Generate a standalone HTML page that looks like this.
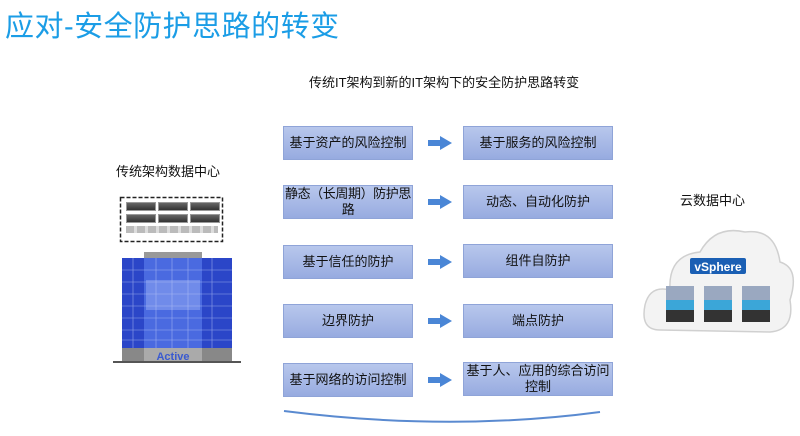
<!DOCTYPE html>
<html><head><meta charset="utf-8"><style>
body{margin:0;width:800px;height:436px;background:#fff;position:relative;overflow:hidden;font-family:"Liberation Sans","Noto Sans CJK SC",sans-serif;}
.a{position:absolute}
.t{left:5px;top:3px;font-size:29px;color:#1b9de6;letter-spacing:0.5px}
.box{position:absolute;background:linear-gradient(#b8c7ec,#97abe0);border:1px solid #8fa4d8;display:flex;align-items:center;justify-content:center;text-align:center;font-size:13px;color:#111;line-height:16px;box-sizing:border-box;white-space:nowrap}
.L{left:283px;width:130px;height:34px}
.R{left:463px;width:150px;height:34px}
.srv{position:absolute;width:28px;height:7px;background:linear-gradient(#666,#333);border:1px solid #999}
</style></head><body>
<div class="a t">应对-安全防护思路的转变</div>
<div class="a" style="left:309px;top:72px;font-size:13px;color:#111">传统IT架构到新的IT架构下的安全防护思路转变</div>
<div class="a" style="left:116px;top:161px;font-size:13px;color:#111">传统架构数据中心</div>
<div class="a" style="left:680px;top:190px;font-size:13px;color:#111">云数据中心</div>

<div class="box L" style="top:126px">基于资产的风险控制</div>
<div class="box R" style="top:126px">基于服务的风险控制</div>
<div class="box L" style="top:185px;letter-spacing:-0.4px">静态（长周期）防护思<br>路</div>
<div class="box R" style="top:185px">动态、自动化防护</div>
<div class="box L" style="top:245px">基于信任的防护</div>
<div class="box R" style="top:244px">组件自防护</div>
<div class="box L" style="top:304px">边界防护</div>
<div class="box R" style="top:304px">端点防护</div>
<div class="box L" style="top:363px">基于网络的访问控制</div>
<div class="box R" style="top:362px">基于人、应用的综合访问<br>控制</div>

<svg class="a" style="left:0;top:0" width="800" height="436">
<defs><polygon id="ar" points="0,-3 12,-3 12,-7 24,0 12,7 12,3 0,3" fill="#4a86d6"/></defs>
<use href="#ar" x="428" y="143"/>
<use href="#ar" x="428" y="202"/>
<use href="#ar" x="428" y="262"/>
<use href="#ar" x="428" y="321"/>
<use href="#ar" x="428" y="380"/>
<path d="M284,411 Q450,432 600,412" stroke="#5a8ad0" stroke-width="2" fill="none"/>
<rect x="120.5" y="197.5" width="102" height="44" fill="none" stroke="#222" stroke-width="1.5" stroke-dasharray="4,2"/>
<rect x="144" y="252" width="58" height="6" fill="#999"/>
<rect x="122" y="258" width="22" height="90" fill="#2b46c8"/>
<rect x="202" y="258" width="30" height="90" fill="#2b46c8"/>
<rect x="144" y="258" width="58" height="90" fill="#4a6ae0"/>
<rect x="146" y="280" width="54" height="30" fill="#8aa2f0" opacity="0.6"/>
<g stroke="#c0ccf8" stroke-width="0.6" opacity="0.7">
<line x1="122" y1="270" x2="232" y2="270"/><line x1="122" y1="282" x2="232" y2="282"/><line x1="122" y1="294" x2="232" y2="294"/><line x1="122" y1="306" x2="232" y2="306"/><line x1="122" y1="318" x2="232" y2="318"/><line x1="122" y1="330" x2="232" y2="330"/><line x1="122" y1="340" x2="232" y2="340"/>
<line x1="156" y1="258" x2="156" y2="348"/><line x1="172" y1="258" x2="172" y2="348"/><line x1="188" y1="258" x2="188" y2="348"/><line x1="212" y1="258" x2="212" y2="348"/><line x1="133" y1="258" x2="133" y2="348"/>
</g>
<rect x="122" y="348" width="110" height="13" fill="#888"/>
<rect x="144" y="348" width="58" height="13" fill="#aaa"/>
<text x="173" y="360" font-size="11" font-weight="bold" fill="#3a5ad0" text-anchor="middle" font-family="Liberation Sans">Active</text>
<rect x="113" y="361" width="128" height="2" fill="#555"/>
<g fill="#f3f3f3" stroke="#d0d0d0" stroke-width="1.5">
<path d="M660,330 Q640,330 645,305 Q650,285 670,290 Q668,255 700,252 Q715,225 745,232 Q775,228 780,262 Q800,268 790,300 Q795,330 770,332 Z"/>
</g>
<rect x="690" y="258" width="56" height="16" rx="2" fill="#1a5fb4"/>
<text x="718" y="271" font-size="12" font-weight="bold" fill="#fff" text-anchor="middle" font-family="Liberation Sans">vSphere</text>
<g>
<rect x="666" y="286" width="28" height="14" fill="#9aa8c0"/><rect x="666" y="300" width="28" height="10" fill="#3ba6d8"/><rect x="666" y="310" width="28" height="12" fill="#333"/>
<rect x="704" y="286" width="28" height="14" fill="#9aa8c0"/><rect x="704" y="300" width="28" height="10" fill="#3ba6d8"/><rect x="704" y="310" width="28" height="12" fill="#333"/>
<rect x="742" y="286" width="28" height="14" fill="#9aa8c0"/><rect x="742" y="300" width="28" height="10" fill="#3ba6d8"/><rect x="742" y="310" width="28" height="12" fill="#333"/>
</g>
</svg>
<div class="srv" style="left:126px;top:202px"></div><div class="srv" style="left:158px;top:202px"></div><div class="srv" style="left:190px;top:202px"></div>
<div class="srv" style="left:126px;top:214px"></div><div class="srv" style="left:158px;top:214px"></div><div class="srv" style="left:190px;top:214px"></div>
<div class="a" style="left:126px;top:226px;width:92px;height:7px;background:repeating-linear-gradient(90deg,#bbb 0 8px,#ddd 8px 11px)"></div>
</body></html>
